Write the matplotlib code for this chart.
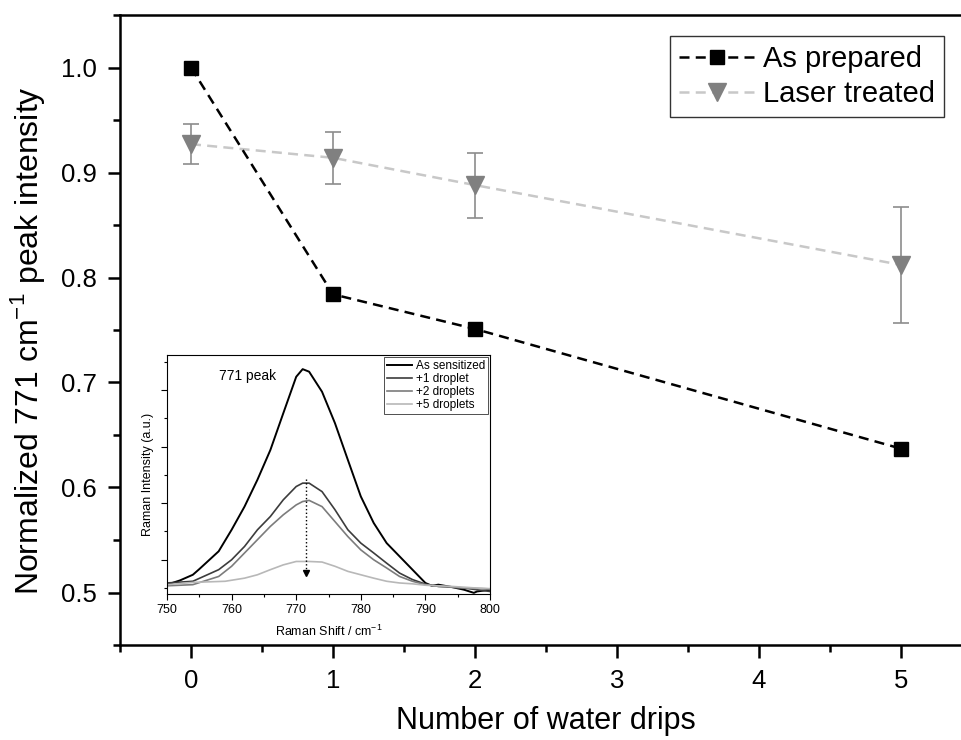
import matplotlib
matplotlib.use("Agg")
import matplotlib.pyplot as plt
from matplotlib.ticker import MultipleLocator, FormatStrFormatter

plt.rcParams['font.family'] = ['Liberation Sans', 'DejaVu Sans']
plt.rcParams['mathtext.fontset'] = 'custom'
plt.rcParams['mathtext.rm'] = 'Liberation Sans'

# ---- main data ----
drips = [0, 1, 2, 5]
as_prepared = [1.000, 0.784, 0.751, 0.637]
laser_treated = [0.927, 0.914, 0.888, 0.812]
laser_err = [0.019, 0.025, 0.031, 0.055]

# ---- inset data (Raman spectra, arbitrary units) ----
shift_sens = [750, 752, 754, 755, 756, 758, 760, 762, 764, 766, 768, 770, 771, 772, 774,
              776, 778, 780, 782, 784, 786, 788, 790, 791, 792, 794, 796, 797.5, 798, 800]
int_sens = [0.12, 0.27, 0.47, 0.67, 0.88, 1.30, 2.06, 2.88, 3.83, 4.88, 6.18, 7.47, 7.74, 7.65, 6.94,
            5.83, 4.53, 3.24, 2.30, 1.59, 1.12, 0.65, 0.18, 0.08, 0.12, 0.04, -0.06, -0.17, -0.12, -0.06]

shift_1 = [750, 754, 758, 760, 762, 764, 766, 768, 770, 771, 772, 774, 776, 778, 780,
           782, 784, 786, 788, 790, 792, 794, 796, 798, 800]
int_1 = [0.18, 0.24, 0.65, 1.00, 1.47, 2.06, 2.53, 3.12, 3.59, 3.71, 3.71, 3.41, 2.77, 2.06, 1.59,
         1.24, 0.88, 0.53, 0.30, 0.14, 0.06, 0.04, 0.00, -0.06, -0.12]

shift_2 = [750, 754, 758, 760, 762, 764, 766, 768, 770, 771, 772, 774, 776, 778, 780,
           782, 784, 786, 788, 790, 792, 796, 800]
int_2 = [0.08, 0.12, 0.41, 0.77, 1.24, 1.71, 2.18, 2.59, 2.94, 3.06, 3.10, 2.88, 2.35, 1.82, 1.35,
         1.00, 0.71, 0.41, 0.24, 0.12, 0.06, 0.00, -0.03]

shift_5 = [750, 754, 759, 762, 764, 766, 768, 770, 772, 774, 776, 778, 780, 782, 784,
           786, 788, 790, 794, 798, 800]
int_5 = [0.12, 0.20, 0.24, 0.35, 0.47, 0.65, 0.82, 0.94, 0.94, 0.92, 0.77, 0.59, 0.47, 0.35, 0.24,
         0.18, 0.15, 0.10, 0.06, 0.00, -0.02]

arrow_x = 771.5
arrow_top = 3.86
arrow_bottom = 0.53

W, H = 961, 740
fig = plt.figure(figsize=(W / 100, H / 100), dpi=100)

# main axes (extends slightly past right edge like the cropped original)
ax = fig.add_axes([120 / W, 1 - 645 / H, 852 / W, 630 / H])
ax.set_xlim(-0.5, 5.5)
ax.set_ylim(0.45, 1.05)

ax.plot(drips, as_prepared, color='black', ls=(0, (4, 2.5)), lw=1.8,
        marker='s', ms=10, mfc='black', mec='black', label='As prepared', zorder=3)
ax.errorbar(drips, laser_treated, yerr=laser_err, fmt='none', ecolor='#8c8c8c',
            elinewidth=1.2, capsize=6, capthick=1.2, zorder=1)
ax.plot(drips, laser_treated, color='#c8c8c8', ls=(0, (4, 2.5)), lw=1.8,
        marker='v', ms=13, mfc='#808080', mec='#808080', label='Laser treated', zorder=2)

ax.spines['right'].set_visible(False)
for s in ['left', 'bottom', 'top']:
    ax.spines[s].set_linewidth(1.8)

ax.xaxis.set_major_locator(MultipleLocator(1))
ax.xaxis.set_minor_locator(MultipleLocator(0.5))
ax.yaxis.set_major_locator(MultipleLocator(0.1))
ax.yaxis.set_minor_locator(MultipleLocator(0.05))
ax.tick_params(which='major', direction='out', length=9, width=1.8, labelsize=18.5, pad=8)
ax.tick_params(which='minor', direction='out', length=5, width=1.8)
ax.tick_params(top=False, right=False, which='both')
ax.yaxis.set_major_formatter(FormatStrFormatter('%.1f'))

ax.set_xlabel('Number of water drips', fontsize=22, labelpad=10)
ax.set_ylabel('Normalized 771 cm$^{-1}$ peak intensity', fontsize=23)
ax.yaxis.set_label_coords(-0.086, 0.484)

leg = ax.legend(loc='upper right', bbox_to_anchor=(944 / W, 1 - 36 / H),
                bbox_transform=fig.transFigure, borderaxespad=0, fontsize=21,
                frameon=True, fancybox=False, handlelength=2.6, handletextpad=0.3,
                borderpad=0.3, labelspacing=0.25)
leg.get_frame().set_edgecolor('black')
leg.get_frame().set_linewidth(1.0)

# inset
axi = fig.add_axes([167 / W, 1 - 594 / H, 323 / W, 239 / H])
axi.plot(shift_sens, int_sens, color='black', lw=1.4, label='As sensitized')
axi.plot(shift_1, int_1, color='#3c3c3c', lw=1.2, label='+1 droplet')
axi.plot(shift_2, int_2, color='#7c7c7c', lw=1.2, label='+2 droplets')
axi.plot(shift_5, int_5, color='#b8b8b8', lw=1.2, label='+5 droplets')
axi.plot([arrow_x, arrow_x], [arrow_top, arrow_bottom + 0.15], color='black', ls=':', lw=1.0)
axi.plot([arrow_x], [arrow_bottom], marker='v', color='black', ms=4)
axi.text(758, 7.5, '771 peak', fontsize=10, ha='left', va='center')

axi.set_xlim(750, 800)
axi.set_ylim(-0.21, 8.24)
axi.xaxis.set_major_locator(MultipleLocator(10))
axi.xaxis.set_minor_locator(MultipleLocator(5))
axi.yaxis.set_major_locator(MultipleLocator(2, offset=1))
axi.yaxis.set_minor_locator(MultipleLocator(2))
axi.tick_params(which='major', direction='out', length=4, width=0.8, labelsize=9, pad=3)
axi.tick_params(which='minor', direction='out', length=2, width=0.8)
axi.tick_params(axis='y', which='both', labelleft=False)
for s in axi.spines.values():
    s.set_linewidth(0.8)
axi.set_xlabel('Raman Shift / cm$^{-1}$', fontsize=9, labelpad=6)
axi.set_ylabel('Raman Intensity (a.u.)', fontsize=9, labelpad=5)
il = axi.legend(loc='upper right', fontsize=8.5, frameon=True, fancybox=False,
                handlelength=2.2, handletextpad=0.3, borderpad=0.2, labelspacing=0.1,
                borderaxespad=0.2)
il.get_frame().set_edgecolor('black')
il.get_frame().set_linewidth(0.6)

fig.savefig('out.png', dpi=100)
